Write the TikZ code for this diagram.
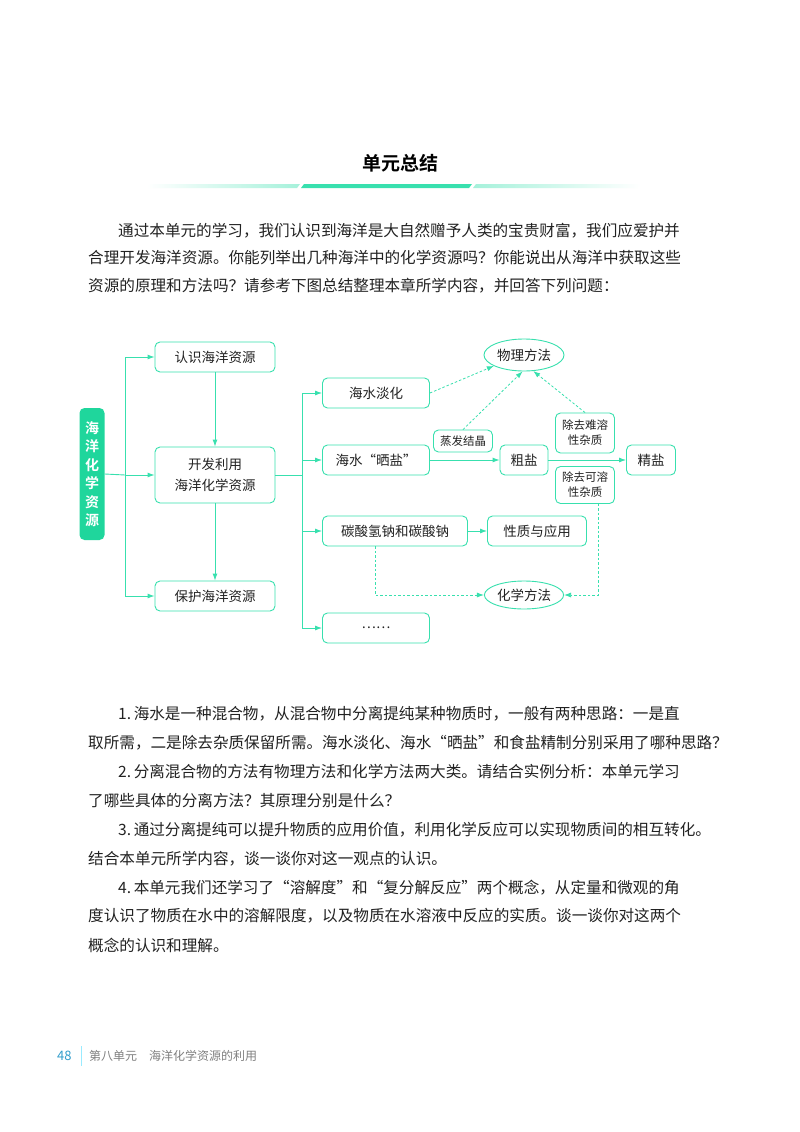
\documentclass[tikz,border=0pt]{standalone}
\usepackage{fontspec}
\setmainfont{Noto Sans CJK SC}
\newfontfamily\cjkb{Noto Sans CJK SC}[BoldFont={* Bold}]
\usetikzlibrary{shapes.geometric,arrows.meta}
\definecolor{gr}{HTML}{38E0AE}
\definecolor{grf}{HTML}{1FD69C}
\definecolor{txt}{HTML}{222222}
\newcommand{\fullline}[1]{\hbox to 602pt{#1\hss}}
\begin{document}
\begin{tikzpicture}[x=1pt,y=-1pt,
  box/.style={draw=gr,line width=0.9pt,rounded corners=5pt,minimum height=30pt,font=\fontsize{13.5}{15}\selectfont,text=txt,inner sep=2pt},
  sbox/.style={draw=gr,line width=0.9pt,rounded corners=5pt,font=\fontsize{11.5}{15}\selectfont,text=txt,inner sep=2pt,align=center},
  ell/.style={draw=gr,line width=0.9pt,ellipse,inner sep=1pt,font=\fontsize{13.5}{15}\selectfont,text=txt},
  arr/.style={draw=gr,line width=0.9pt,-{Latex[length=7pt,width=5pt]}},
  darr/.style={draw=gr,line width=0.8pt,dashed,dash pattern=on 2.5pt off 2pt,-{Latex[length=7pt,width=5pt]}},
  para/.style={anchor=west,inner sep=0pt,font=\fontsize{15.6}{18}\selectfont,text=txt}]
\useasboundingbox (0,0) rectangle (800,1132);
\fill[white] (0,0) rectangle (800,1132);
% title
\node[font=\cjkb\bfseries\fontsize{19}{22}\selectfont] (title) at (400,163) {单元总结};
\shade[left color=white,right color=gr!45] (150,184) -- (300,184) -- (297,188) -- (147,188) -- cycle;
\fill[gr] (304,184) -- (472,184) -- (469,188) -- (301,188) -- cycle;
\shade[left color=gr!45,right color=white] (476,184) -- (640,184) -- (637,188) -- (473,188) -- cycle;
% intro
\node[para] (p1) at (118,231) {通过本单元的学习，我们认识到海洋是大自然赠予人类的宝贵财富，我们应爱护并};
\node[para] (p2) at (88,258) {合理开发海洋资源。你能列举出几种海洋中的化学资源吗？你能说出从海洋中获取这些};
\node[para] (p3) at (88,286) {资源的原理和方法吗？请参考下图总结整理本章所学内容，并回答下列问题：};
% diagram
\node[fill=grf,rounded corners=5pt,minimum width=25pt,minimum height=132pt,text=white,font=\cjkb\bfseries\fontsize{14}{18.5}\selectfont,align=center,inner sep=0pt] (main) at (92,474) {海\\洋\\化\\学\\资\\源};
\node[box,minimum width=120pt] (rs) at (215,357) {认识海洋资源};
\node[box,minimum width=120pt,minimum height=56pt,align=center,font=\fontsize{13.5}{21}\selectfont] (kf) at (215,475) {开发利用\\海洋化学资源};
\node[box,minimum width=120pt] (bh) at (215,596) {保护海洋资源};
\coordinate (t1) at (125,475);
\draw[gr,line width=0.9pt] (main.east) -- (t1);
\draw[arr] (t1) |- (rs.west);
\draw[arr] (t1) -- (kf.west);
\draw[arr] (t1) |- (bh.west);
\draw[arr] (rs) -- (kf);
\draw[arr] (kf) -- (bh);
\node[box,minimum width=107pt] (dh) at (376,393) {海水淡化};
\node[box,minimum width=107pt] (sy) at (376,460) {海水“晒盐”};
\node[box,minimum width=145pt] (tn) at (395,531) {碳酸氢钠和碳酸钠};
\node[box,minimum width=107pt] (more) at (376,628) {……};
\coordinate (t2) at (302,475);
\draw[gr,line width=0.9pt] (kf.east) -- (t2);
\draw[arr] (t2) |- (dh.west);
\draw[arr] (t2) |- (sy.west);
\draw[arr] (t2) |- (tn.west);
\draw[arr] (t2) |- (more.west);
\node[ell,minimum width=80pt,minimum height=32pt] (wl) at (524,355) {物理方法};
\node[ell,minimum width=76pt,minimum height=28pt] (hx) at (524,595) {化学方法};
\node[sbox,minimum width=59pt,minimum height=22pt] (zf) at (463,441) {蒸发结晶};
\node[box,minimum width=48pt] (cy) at (524,460) {粗盐};
\node[sbox,minimum width=59pt,minimum height=40pt] (nr) at (585,433) {除去难溶\\性杂质};
\node[sbox,minimum width=59pt,minimum height=37pt] (kr) at (585,485) {除去可溶\\性杂质};
\node[box,minimum width=49pt] (jy) at (651,460) {精盐};
\node[box,minimum width=99pt] (xz) at (537,531) {性质与应用};
\draw[arr] (sy) -- (cy);
\draw[arr] (cy) -- (jy);
\draw[arr] (tn) -- (xz);
\draw[darr] (dh.east) -- (wl.200);
\draw[darr] (zf.north) -- (wl.265);
\draw[darr] (nr.north) -- (wl.-60);
\coordinate (c1) at (375,595);
\coordinate (c2) at (598,595);
\draw[darr] (tn.south -| c1) -- (c1) -- (hx.west);
\draw[darr] (kr.south -| c2) -- (c2) -- (hx.east);
% questions
\node[para] (q1) at (118,714) {1.\,海水是一种混合物，从混合物中分离提纯某种物质时，一般有两种思路：一是直};
\node[para] (q2) at (88,743) {取所需，二是除去杂质保留所需。海水淡化、海水“晒盐”和食盐精制分别采用了哪种思路？};
\node[para] (q3) at (118,772) {2.\,分离混合物的方法有物理方法和化学方法两大类。请结合实例分析：本单元学习};
\node[para] (q4) at (88,801) {了哪些具体的分离方法？其原理分别是什么？};
\node[para] (q5) at (118,830) {3.\,通过分离提纯可以提升物质的应用价值，利用化学反应可以实现物质间的相互转化。};
\node[para] (q6) at (88,859) {结合本单元所学内容，谈一谈你对这一观点的认识。};
\node[para] (q7) at (118,888) {4.\,本单元我们还学习了“溶解度”和“复分解反应”两个概念，从定量和微观的角};
\node[para] (q8) at (88,916) {度认识了物质在水中的溶解限度，以及物质在水溶液中反应的实质。谈一谈你对这两个};
\node[para] (q9) at (88,945) {概念的认识和理解。};
% footer
\node[anchor=west,inner sep=0pt,text=blue!30!cyan!60!gray,font=\fontsize{13}{15}\selectfont] (pg) at (57,1056) {48};
\draw[blue!20!cyan!40,line width=0.8pt] (81,1046) -- (81,1066);
\node[anchor=west,inner sep=0pt,text=gray,font=\fontsize{12}{15}\selectfont] (ft) at (89,1056) {第八单元\hspace{12pt}海洋化学资源的利用};
\end{tikzpicture}
\end{document}
